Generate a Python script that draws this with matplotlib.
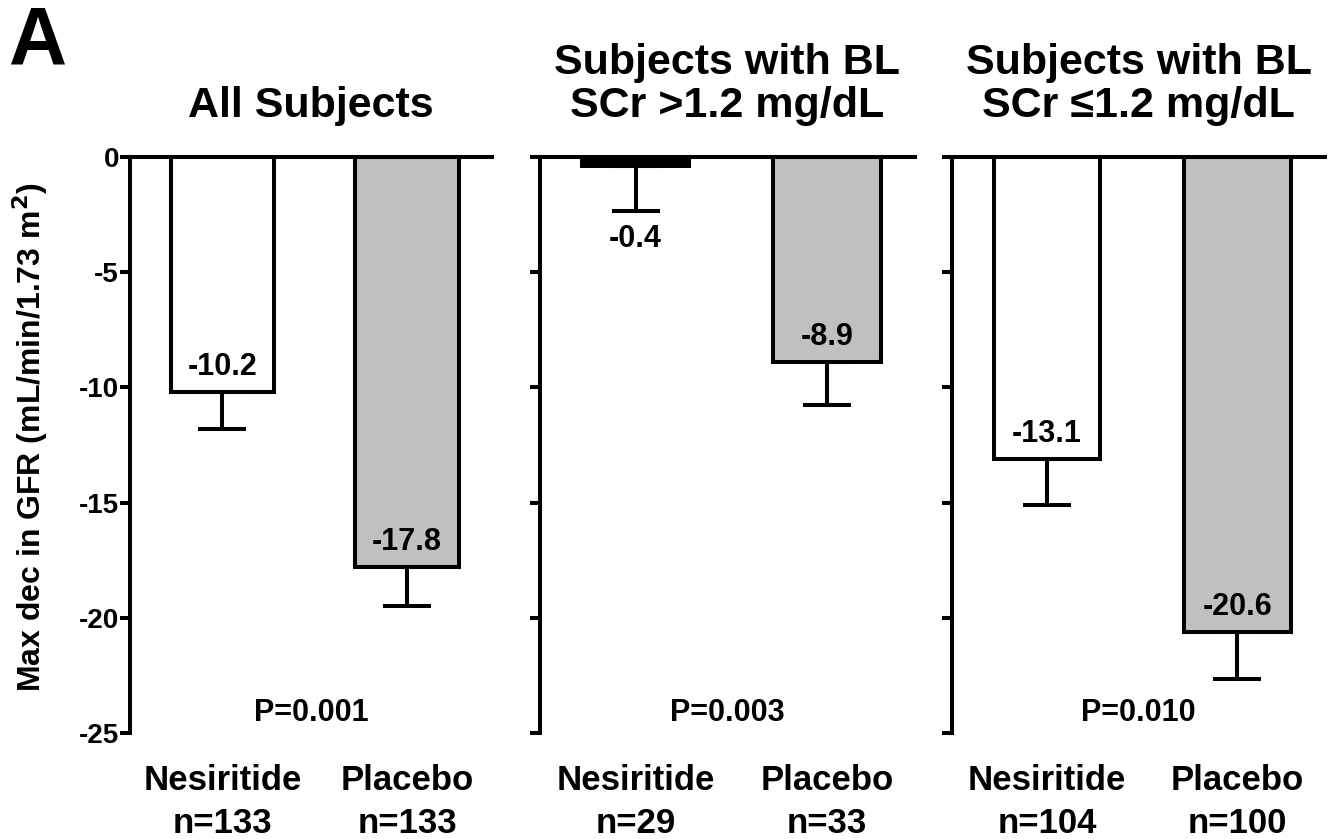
import matplotlib
matplotlib.use("Agg")
import matplotlib.pyplot as plt

plt.rcParams['font.family'] = ['Liberation Sans', 'DejaVu Sans']
plt.rcParams['font.weight'] = 'bold'

panel_titles = ["All Subjects", "Subjects with BL\nSCr >1.2 mg/dL", "Subjects with BL\nSCr \u22641.2 mg/dL"]
groups = ["Nesiritide", "Placebo"]
n_nes = [133, 29, 104]
n_pla = [133, 33, 100]
mean_nes = [-10.2, -0.4, -13.1]
mean_pla = [-17.8, -8.9, -20.6]
err_nes = [1.6, 1.95, 2.0]
err_pla = [1.7, 1.85, 2.05]
p_values = ["P=0.001", "P=0.003", "P=0.010"]
yticks = [0, -5, -10, -15, -20, -25]

W, H = 1336, 839
fig = plt.figure(figsize=(W / 100, H / 100), dpi=100)

lefts = [130, 540, 952]
widths = [362, 375, 373]
top_px, bot_px = 157, 733
LW = 2.9
fills = [["white", "#c0c0c0"], ["black", "#c0c0c0"], ["white", "#c0c0c0"]]

for i in range(3):
    ax = fig.add_axes([lefts[i] / W, 1 - bot_px / H, widths[i] / W, (bot_px - top_px) / H])
    vals = [mean_nes[i], mean_pla[i]]
    errs = [err_nes[i], err_pla[i]]
    x = [0, 1]
    ax.errorbar(x, vals, yerr=[errs, [0, 0]], fmt='none', ecolor='black',
                elinewidth=LW, capsize=17, capthick=LW, zorder=2)
    ax.bar(x, vals, width=0.56, color=fills[i], edgecolor='black', linewidth=LW, zorder=3)
    for xi, v, e in zip(x, vals, errs):
        if abs(v) < 2:
            ax.annotate(f"{v:.1f}", xy=(xi, v - e), xytext=(0, -9), textcoords='offset points',
                        ha='center', va='top', fontsize=22, fontweight='bold', zorder=4)
        else:
            ax.annotate(f"{v:.1f}", xy=(xi, v), xytext=(0, 7), textcoords='offset points',
                        ha='center', va='bottom', fontsize=22, fontweight='bold', zorder=4)
    ax.set_xlim(-0.5, 1.46)
    ax.set_ylim(-25, 0)
    ax.set_yticks(yticks)
    if i == 0:
        ax.set_yticklabels([str(t) for t in yticks], fontsize=20, fontweight='bold')
    else:
        ax.set_yticklabels([])
    ax.tick_params(axis='y', length=7, width=LW, pad=1)
    ax.set_xticks(x)
    ax.set_xticklabels([f"{groups[0]}\nn={n_nes[i]}", f"{groups[1]}\nn={n_pla[i]}"],
                       fontsize=25, fontweight='bold', linespacing=1.4)
    ax.tick_params(axis='x', length=0, pad=22)
    for s in ['bottom', 'right']:
        ax.spines[s].set_visible(False)
    for s in ['top', 'left']:
        ax.spines[s].set_linewidth(LW)
        ax.spines[s].set_zorder(5)
    ax.text(0.5, 0.035, p_values[i], transform=ax.transAxes, ha='center', va='center',
            fontsize=22, fontweight='bold')
    ax.set_title(panel_titles[i], fontsize=31, fontweight='bold', pad=29, linespacing=1.1)

fig.text(30 / W, 1 - 437 / H, "Max dec in GFR (mL/min/1.73 m$^\\mathbf{2}$)", rotation=90,
         ha='center', va='center', fontsize=23, fontweight='bold')
fig.text(9 / W, 1 - 43 / H, "A", ha='left', va='center', fontsize=58, fontweight='bold')

fig.savefig("out.png", dpi=100)
